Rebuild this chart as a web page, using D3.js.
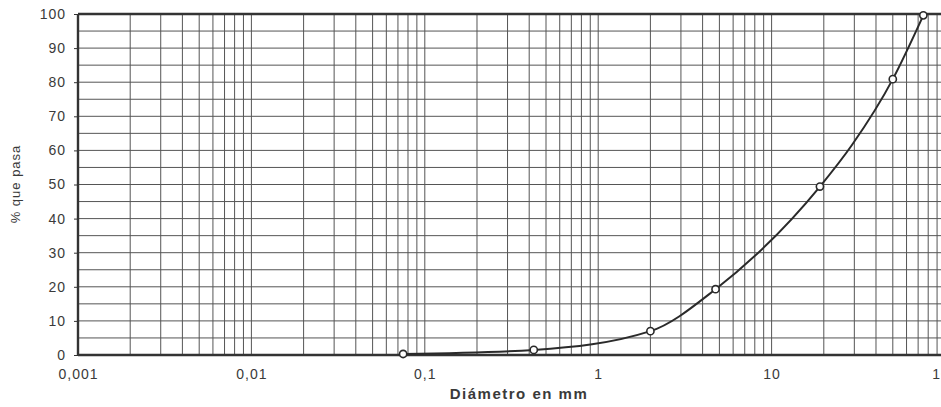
<!DOCTYPE html>
<html>
<head>
<meta charset="utf-8">
<script src="https://cdn.jsdelivr.net/npm/d3@7"></script>
<style>
  body { margin: 0; background: #fff; overflow: hidden; }
  svg { display: block; }
</style>
</head>
<body>
<div id="chart"></div>
<script>
// sieve openings (mm) and % passing
const diameters = [0.075, 0.425, 2.0, 4.75, 19, 29, 50, 75];
const passing = [0.3, 1.5, 7, 19.3, 49.4, 61.5, 80.9, 99.6];
const marked = [true, true, true, true, true, false, true, true];

const xTicks = [0.001, 0.01, 0.1, 1, 10, 100];
const xTickLabels = ["0,001", "0,01", "0,1", "1", "10", "100"];
const yTicks = [0, 10, 20, 30, 40, 50, 60, 70, 80, 90, 100];

const width = 941, height = 407;
const margin = { top: 14, left: 78, bottom: 52 };
const plotRight = 945; // the scan cuts the plot off at the right edge

const svg = d3.select("#chart")
  .append("svg")
  .attr("width", width)
  .attr("height", height);

const x = d3.scaleLog()
  .domain([0.001, 100])
  .range([margin.left, plotRight]);

const y = d3.scaleLinear()
  .domain([0, 100])
  .range([height - margin.bottom, margin.top]);

// minor log grid: 1..9 in every decade
const xGrid = [];
for (let e = -3; e < 2; e++) {
  for (let m = 1; m <= 9; m++) xGrid.push(m * Math.pow(10, e));
}
xGrid.push(100);

svg.append("g")
  .selectAll("line")
  .data(xGrid)
  .enter()
  .append("line")
  .attr("x1", d => x(d))
  .attr("x2", d => x(d))
  .attr("y1", y(0))
  .attr("y2", y(100))
  .attr("stroke", "#555")
  .attr("stroke-width", 1);

// horizontal grid every 5 %
svg.append("g")
  .selectAll("line")
  .data(d3.range(5, 100, 5))
  .enter()
  .append("line")
  .attr("x1", x(0.001))
  .attr("x2", plotRight)
  .attr("y1", d => y(d))
  .attr("y2", d => y(d))
  .attr("stroke", "#555")
  .attr("stroke-width", 1);

// frame (left, bottom, top)
const frame = svg.append("g").attr("stroke", "#333").attr("stroke-width", 2.4);
frame.append("line").attr("x1", x(0.001)).attr("x2", x(0.001)).attr("y1", y(0)).attr("y2", y(100));
frame.append("line").attr("x1", x(0.001)).attr("x2", plotRight).attr("y1", y(0)).attr("y2", y(0));
frame.append("line").attr("x1", x(0.001)).attr("x2", plotRight).attr("y1", y(100)).attr("y2", y(100));

// axes (labels only, the frame draws the lines)
const yAxis = svg.append("g")
  .attr("transform", `translate(${margin.left},0)`)
  .call(d3.axisLeft(y).tickValues(yTicks).tickSize(4).tickPadding(9));

const xAxis = svg.append("g")
  .attr("transform", `translate(0,${y(0)})`)
  .call(d3.axisBottom(x).tickValues(xTicks).tickSize(0).tickPadding(14)
    .tickFormat((d, i) => xTickLabels[i]));

[xAxis, yAxis].forEach(ax => {
  ax.select(".domain").remove();
  ax.selectAll("line").attr("stroke", "#333");
  ax.selectAll("text")
    .attr("fill", "#3a3a3a")
    .style("font-family", "Liberation Sans, Arial, sans-serif")
    .style("font-size", "14px")
    .style("letter-spacing", "1px");
});
yAxis.selectAll("text").attr("dx", "1px");

// grading curve
const pts = diameters.map((d, i) => ({ d: d, p: passing[i], m: marked[i] }));

const line = d3.line()
  .x(d => x(d.d))
  .y(d => y(d.p))
  .curve(d3.curveMonotoneX);

svg.append("path")
  .datum(pts)
  .attr("d", line)
  .attr("fill", "none")
  .attr("stroke", "#2a2a2a")
  .attr("stroke-width", 2);

svg.selectAll(".pt")
  .data(pts.filter(d => d.m))
  .enter()
  .append("circle")
  .attr("class", "pt")
  .attr("cx", d => x(d.d))
  .attr("cy", d => y(d.p))
  .attr("r", 3.6)
  .attr("fill", "#fff")
  .attr("stroke", "#2a2a2a")
  .attr("stroke-width", 1.6);

// axis titles
svg.append("text")
  .attr("x", 519)
  .attr("y", 399)
  .attr("text-anchor", "middle")
  .style("font-family", "Liberation Sans, Arial, sans-serif")
  .style("font-size", "15px")
  .style("font-weight", "bold")
  .style("letter-spacing", "1.5px")
  .attr("fill", "#3a3a3a")
  .text("Diámetro en mm");

svg.append("text")
  .attr("transform", "translate(20,184) rotate(-90)")
  .attr("text-anchor", "middle")
  .style("font-family", "Liberation Sans, Arial, sans-serif")
  .style("font-size", "13px")
  .style("letter-spacing", "1px")
  .attr("fill", "#3a3a3a")
  .text("% que pasa");
</script>
</body>
</html>
